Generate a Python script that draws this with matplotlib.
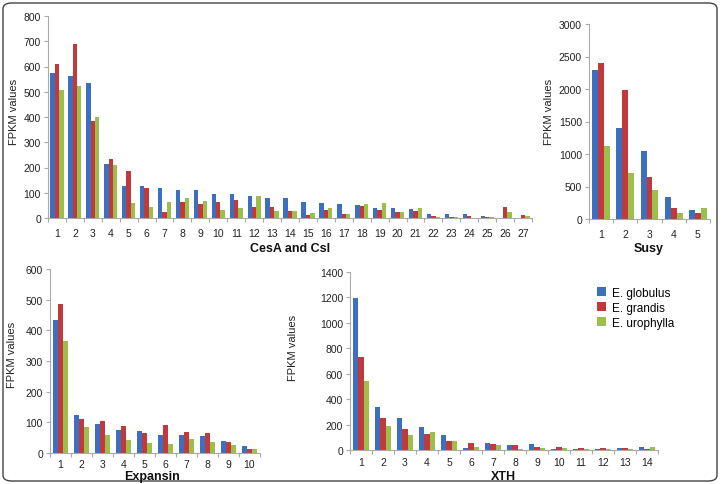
import matplotlib
matplotlib.use("Agg")
import matplotlib.pyplot as plt
import numpy as np
from matplotlib.patches import FancyBboxPatch

plt.rcParams['font.family'] = ['Liberation Sans', 'DejaVu Sans']

series_names = ["E. globulus", "E. grandis", "E. urophylla"]
colors = ["#3d6fc0", "#c2393c", "#9cbf4b"]

# CesA and Csl
cesa_cats = [str(i) for i in range(1, 28)]
cesa_glob = [575, 562, 535, 212, 128, 125, 118, 112, 110, 97, 95, 87, 80, 79, 62, 59, 55, 53, 40, 38, 36, 16, 16, 16, 9, 0, 0]
cesa_gran = [610, 688, 385, 235, 187, 120, 25, 65, 55, 65, 73, 45, 42, 26, 13, 33, 16, 49, 33, 22, 29, 8, 5, 8, 4, 45, 13]
cesa_urop = [505, 522, 400, 210, 60, 45, 65, 80, 68, 33, 38, 87, 28, 26, 18, 38, 16, 55, 59, 22, 40, 2, 5, 1, 3, 22, 9]

# Susy
susy_cats = [str(i) for i in range(1, 6)]
susy_glob = [2290, 1400, 1040, 345, 145]
susy_gran = [2400, 1990, 650, 170, 95]
susy_urop = [1130, 710, 450, 100, 170]

# Expansin
exp_cats = [str(i) for i in range(1, 11)]
exp_glob = [435, 123, 93, 75, 73, 60, 60, 57, 38, 22]
exp_gran = [487, 112, 105, 88, 65, 90, 68, 66, 35, 14]
exp_urop = [365, 85, 60, 42, 32, 30, 47, 35, 26, 14]

# XTH
xth_cats = [str(i) for i in range(1, 15)]
xth_glob = [1195, 340, 255, 178, 118, 15, 55, 38, 48, 10, 5, 5, 12, 20]
xth_gran = [730, 250, 165, 125, 72, 52, 50, 38, 25, 25, 15, 12, 12, 8]
xth_urop = [545, 190, 120, 145, 72, 20, 38, 5, 12, 15, 8, 5, 5, 20]

W, H = 721, 485
fig = plt.figure(figsize=(W / 100, H / 100), dpi=100)

def add_ax(left, right, top, bottom):
    return fig.add_axes([left / W, 1 - bottom / H, (right - left) / W, (bottom - top) / H])

def draw(ax, cats, vals, ymax, ystep, pad):
    n = len(cats)
    x = np.arange(1, n + 1)
    bw = 0.245
    for k, (v, c) in enumerate(zip(vals, colors)):
        ax.bar(x + (k - 1) * bw, v, width=bw, color=c, edgecolor='none', label=series_names[k], zorder=2)
    ax.set_xlim(0.5, n + 0.5)
    ax.set_ylim(0, ymax)
    ax.set_yticks(np.arange(0, ymax + 1, ystep))
    ax.set_xticks(x)
    ax.set_xticklabels(cats)
    ax.set_xticks(np.arange(0.5, n + 1, 1), minor=True)
    ax.tick_params(axis='x', which='major', length=0, labelsize=7.5, colors='#222222', pad=pad)
    ax.tick_params(axis='x', which='minor', length=3, color='#aaaaaa', width=0.8)
    ax.tick_params(axis='y', length=3, color='#aaaaaa', width=0.8, labelsize=7.5, labelcolor='#222222', pad=2)
    for s in ['top', 'right']:
        ax.spines[s].set_visible(False)
    for s in ['left', 'bottom']:
        ax.spines[s].set_color('#aaaaaa')
        ax.spines[s].set_linewidth(0.8)
    ax.patch.set_alpha(0)

ax1 = add_ax(48, 532, 17, 219)
draw(ax1, cesa_cats, [cesa_glob, cesa_gran, cesa_urop], 800, 100, 7)
ax2 = add_ax(589, 710, 25, 220)
draw(ax2, susy_cats, [susy_glob, susy_gran, susy_urop], 3000, 500, 7)
ax3 = add_ax(50, 260, 270, 454)
draw(ax3, exp_cats, [exp_glob, exp_gran, exp_urop], 600, 100, 4)
ax4 = add_ax(350, 658, 273, 451)
draw(ax4, xth_cats, [xth_glob, xth_gran, xth_urop], 1400, 200, 5)

def ftext(x, y, s, va='center', **kw):
    fig.text(x / W, 1 - y / H, s, ha='center', va=va, **kw)

ftext(290, 252, "CesA and Csl", va='baseline', fontsize=9, fontweight='bold', color='#111111')
ftext(649, 252, "Susy", va='baseline', fontsize=9, fontweight='bold', color='#111111')
ftext(152, 480, "Expansin", va='baseline', fontsize=9, fontweight='bold', color='#111111')
ftext(503, 480, "XTH", va='baseline', fontsize=9, fontweight='bold', color='#111111')

ftext(14, 112, "FPKM values", fontsize=8, rotation=90, color='#222222')
ftext(549, 112, "FPKM values", fontsize=8, rotation=90, color='#222222')
ftext(12, 355, "FPKM values", fontsize=8, rotation=90, color='#222222')
ftext(293, 348, "FPKM values", fontsize=8, rotation=90, color='#222222')

handles, labels = ax4.get_legend_handles_labels()
leg = fig.legend(handles, labels, loc='upper left',
                 bbox_to_anchor=(592 / W, 1 - 283 / H), frameon=False,
                 fontsize=8.5, handlelength=0.8, handleheight=0.8,
                 handletextpad=0.5, labelspacing=0.25, borderaxespad=0)

border = FancyBboxPatch((3 / W, 3 / H), (W - 7) / W, (H - 7) / H,
                        boxstyle="round,pad=0,rounding_size=0.012",
                        transform=fig.transFigure, fill=False,
                        edgecolor='#444444', linewidth=1.0)
fig.patches.append(border)

fig.savefig("out.png", dpi=100)
